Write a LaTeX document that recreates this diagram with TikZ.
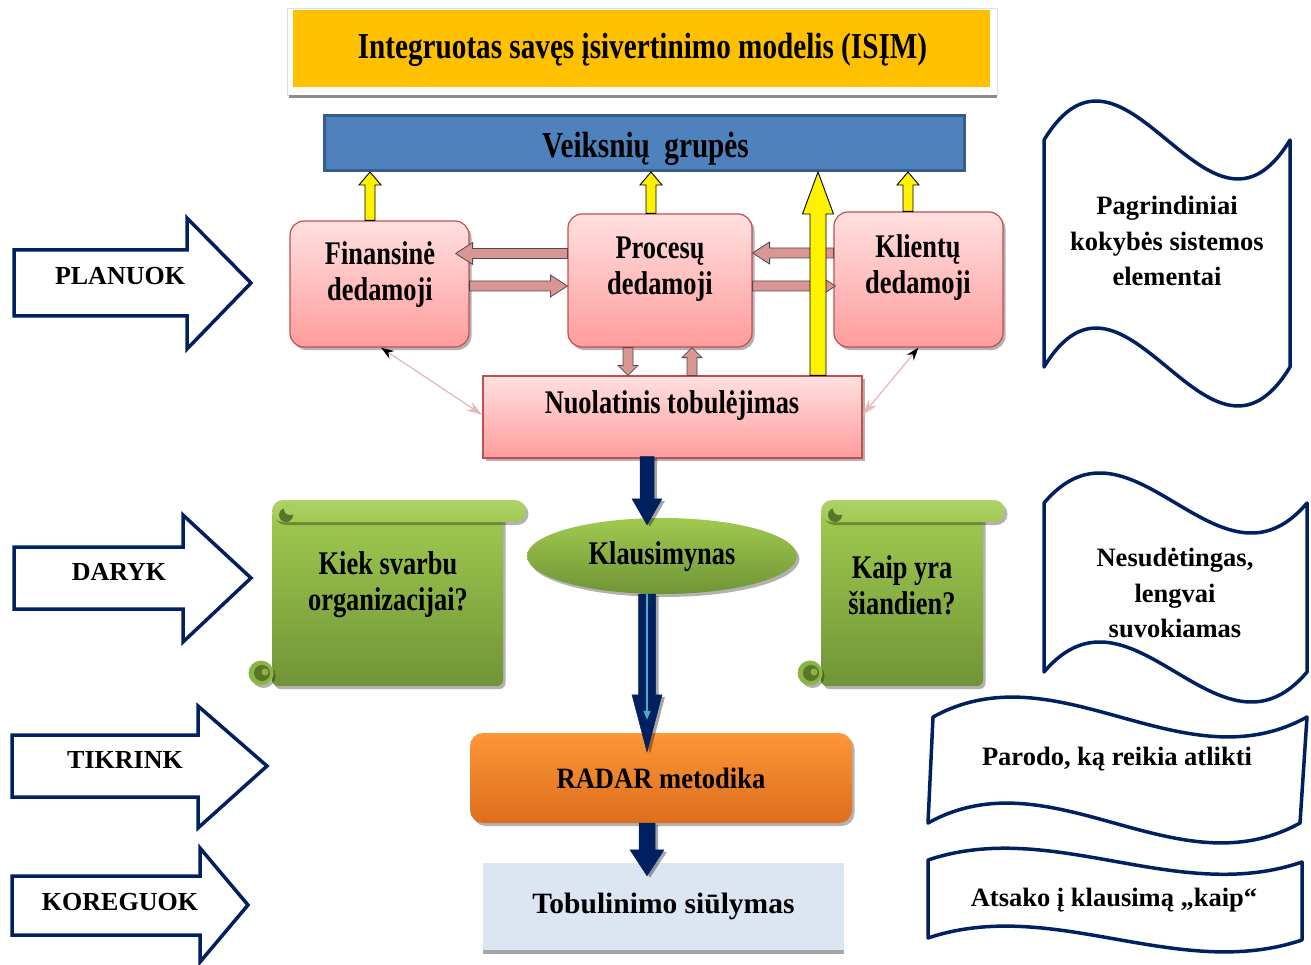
\documentclass[tikz,border=0pt]{standalone}
\usepackage{fontspec}
\setmainfont{Liberation Serif}
\newfontfamily\cf[FakeStretch=0.8]{Liberation Serif}
\newfontfamily\cfn[FakeStretch=0.9]{Liberation Serif}
\usetikzlibrary{calc,shadows,arrows.meta,shapes.geometric}
\definecolor{navy}{RGB}{0,32,96}
\definecolor{gold}{RGB}{255,192,0}
\definecolor{vblue}{RGB}{79,129,189}
\definecolor{vblueb}{RGB}{56,93,138}
\definecolor{pinkT}{RGB}{255,224,224}
\definecolor{pinkB}{RGB}{255,156,156}
\definecolor{pinkE}{RGB}{192,80,77}
\definecolor{arrpink}{RGB}{217,150,148}
\definecolor{linepink}{RGB}{230,185,184}
\definecolor{grT}{RGB}{160,202,80}
\definecolor{grB}{RGB}{112,148,54}
\definecolor{grD}{RGB}{88,118,42}
\definecolor{orT}{RGB}{252,150,55}
\definecolor{orB}{RGB}{222,110,28}
\definecolor{lblue}{RGB}{220,230,242}
\definecolor{stripe}{RGB}{75,172,198}
\newcommand\barrow[6][]{%
  \coordinate (bh) at ($(#3)!#6!(#2)$);
  \path[#1] ($(#2)!#4!90:(#3)$) -- ($(bh)!#4!90:(#3)$) -- ($(bh)!#5!90:(#3)$) -- (#3)
    -- ($(bh)!#5!-90:(#3)$) -- ($(bh)!#4!-90:(#3)$) -- ($(#2)!#4!-90:(#3)$) -- cycle;}
\newcommand\scrollshape[5]{%
  \path[top color=grT, bottom color=grB, myshadow, rounded corners=6pt] (#1,#4+10) rectangle (#2,#5);
  \path[fill=grT!55!grB, draw=grT!70!grB, line width=1pt, myshadow] (#1-11,#5-13) circle (12pt);
  \path[fill=grD] (#1-10,#5-13) circle (8pt);
  \path[fill=grT!55!grB] (#1-7,#5-14) circle (3.5pt);
  \path[top color=grT!85!white, bottom color=grT, rounded corners=11pt, myshadow] (#1,#4) rectangle (#3,#4+22);
  \path[fill=grD] (#1+14,#4+15) circle (7pt);
  \path[fill=grT!92!white] (#1+18,#4+9) circle (6pt);}
\begin{document}
\begin{tikzpicture}[x=1pt,y=-1pt,
  myshadow/.style={drop shadow={shadow xshift=2.5pt,shadow yshift=-3pt,fill=black,opacity=0.3}},
  pinkbox/.style={rectangle, draw=pinkE, line width=1.2pt, top color=pinkT, bottom color=pinkB, myshadow},
  condtxt/.style={align=center, font=\cf\bfseries\fontsize{33}{36}\selectfont, inner sep=0pt},
  doctxt/.style={align=center, font=\bfseries\fontsize{26.5}{35.5}\selectfont, inner sep=0pt},
  armtxt/.style={font=\bfseries\fontsize{26}{28}\selectfont, inner sep=0pt},
  docshape/.style={draw=navy, line width=3.5pt, fill=white, line join=round},
  bigarrow/.style={draw=navy, line width=3.5pt, fill=white, line join=miter},
  yarrow/.style={fill=yellow, draw=black, line width=0.9pt},
  parrow/.style={fill=arrpink, draw=black!70, line width=0.8pt},
  narrow/.style={fill=navy, draw=navy, line width=0.5pt, drop shadow={shadow xshift=3pt,shadow yshift=-2pt,fill=black,opacity=0.35}},
  thinlink/.style={draw=linepink, line width=1.3pt, arrows={Stealth[black,length=13pt,width=9pt]-Stealth[linepink,length=16pt,width=10pt]}},
  stripeline/.style={draw=stripe, line width=1.4pt, arrows={-Triangle[length=9pt,width=7pt]}}
]
\useasboundingbox (0,0) rectangle (1311,965);

% title
\path[fill=white, draw=black!12, line width=0.6pt] (287,8) rectangle (997,95);
\path[fill=black!45] (289,95) rectangle (997,98);
\node[fill=gold, minimum width=697pt, minimum height=77pt, inner sep=0pt] (title) at (641.5,48.5) {};
\node[inner sep=0pt, font=\cf\bfseries\fontsize{36.5}{40}\selectfont] (titlet) at (642.5,50) {Integruotas savęs įsivertinimo modelis (ISĮM)};

% factor groups
\node[fill=vblue, draw=vblueb, line width=3pt, minimum width=640pt, minimum height=55pt, inner sep=0pt] (veik) at (644.5,143) {};
\node[inner sep=0pt, font=\cf\bfseries\fontsize{36.5}{40}\selectfont] (veikt) at (645.5,149) {Veiksnių\ \ grupės};

% pink boxes
\node[pinkbox, rounded corners=14pt, minimum width=179pt, minimum height=126pt] (fin) at (379.5,284) {};
\node[condtxt] (fint) at (380,275) {Finansinė\\dedamoji};
\node[pinkbox, rounded corners=14pt, minimum width=184pt, minimum height=133pt] (proc) at (660,280.5) {};
\node[condtxt] (proct) at (660,269.5) {Procesų\\dedamoji};
\node[pinkbox, rounded corners=14pt, minimum width=169pt, minimum height=135pt] (kli) at (918.5,279.5) {};
\node[condtxt] (klit) at (918,268) {Klientų\\dedamoji};
\node[pinkbox, minimum width=379pt, minimum height=82pt] (nuol) at (672.5,417) {};
\node[condtxt] (nuolt) at (672,406) {Nuolatinis tobulėjimas};

% scrolls
\scrollshape{272}{503}{526}{500}{686}
\node[condtxt] (sc1) at (388,585) {Kiek svarbu\\organizacijai?};
\scrollshape{821}{983}{1005}{500}{686}
\node[condtxt] (sc2) at (902,585) {Kaip yra\\šiandien?};

% questionnaire
\node[ellipse, minimum width=270pt, minimum height=76pt, top color=grT, bottom color=grB, myshadow, inner sep=0pt] (klaus) at (662,556) {};
\node[condtxt] (klaust) at (662,557) {Klausimynas};

% RADAR
\node[rectangle, rounded corners=13pt, minimum width=382pt, minimum height=90pt, top color=orT, bottom color=orB, myshadow, inner sep=0pt, font=\cfn\bfseries\fontsize{29.5}{32}\selectfont] (radar) at (661,778) {RADAR metodika};

% proposal
\node[fill=lblue, minimum width=361pt, minimum height=87pt, inner sep=0pt, drop shadow={shadow xshift=0pt,shadow yshift=-4pt,fill=black,opacity=0.35}, font=\bfseries\fontsize{29.5}{32}\selectfont] (tob) at (663.5,906.5) {Tobulinimo siūlymas};

% left arrows
\path[bigarrow] (14,250) -- (187,250) -- (187,218) -- (251,283) -- (187,349) -- (187,316) -- (14,316) -- cycle;
\node[armtxt] (plan) at (120,276) {PLANUOK};
\path[bigarrow] (14,547) -- (183,547) -- (183,515) -- (251,578) -- (183,642) -- (183,609) -- (14,609) -- cycle;
\node[armtxt] (dar) at (119,572) {DARYK};
\path[bigarrow] (12,735) -- (198,735) -- (198,706) -- (267,766) -- (198,828) -- (198,797) -- (12,797) -- cycle;
\node[armtxt] (tik) at (125,760) {TIKRINK};
\path[bigarrow] (12,876) -- (200,876) -- (200,848) -- (248,905) -- (200,962) -- (200,935) -- (12,935) -- cycle;
\node[armtxt] (kor) at (120,902) {KOREGUOK};

% right documents
\path[docshape] (1044,140) .. controls (1126,5) and (1208,275) .. (1290,140) -- (1290,367) .. controls (1208,502) and (1126,232) .. (1044,367) -- cycle;
\node[doctxt] (d1) at (1167,241) {Pagrindiniai\\kokybės sistemos\\elementai};
\path[docshape] (1044,503) .. controls (1132,399) and (1219,607) .. (1307,503) -- (1307,672) .. controls (1219,776) and (1132,568) .. (1044,672) -- cycle;
\node[doctxt] (d2) at (1175,593) {Nesudėtingas,\\lengvai\\suvokiamas};
\path[docshape] (933,717) .. controls (1058,648) and (1182,786) .. (1307,717) -- (1300,823) .. controls (1176,892) and (1052,754) .. (928,823) -- cycle;
\node[doctxt] (d3) at (1117,759) {Parodo, ką reikia atlikti};
\path[docshape] (928,860) .. controls (1053,818) and (1177,905) .. (1302,862) -- (1302,940) .. controls (1177,982) and (1053,896) .. (928,938) -- cycle;
\node[doctxt] (d4) at (1114,900) {Atsako į klausimą „kaip“};

% pink block arrows between dimensions
\coordinate (p1s) at ($(proc.west)+(0,-27)$);
\coordinate (p1e) at ($(fin.east |- p1s)+(-14,0)$);
\barrow[parrow]{p1s}{p1e}{5pt}{11pt}{17pt}
\coordinate (p2s) at ($(fin.east)+(0,2)$);
\coordinate (p2e) at (proc.west |- p2s);
\barrow[parrow]{p2s}{p2e}{5pt}{11pt}{17pt}
\coordinate (p3s) at ($(kli.west)+(0,-26.5)$);
\coordinate (p3e) at (proc.east |- p3s);
\barrow[parrow]{p3s}{p3e}{5pt}{11pt}{17pt}
\coordinate (p4s) at ($(proc.east)+(0,5.5)$);
\coordinate (p4e) at ($(kli.west |- p4s)+(2,0)$);
\barrow[parrow]{p4s}{p4e}{5pt}{11pt}{17pt}
\coordinate (p5s) at ($(proc.south)+(-32,0)$);
\coordinate (p5e) at (p5s |- nuol.north);
\barrow[parrow]{p5s}{p5e}{5pt}{10pt}{10pt}
\coordinate (p6s) at ($(nuol.north)+(19.5,0)$);
\coordinate (p6e) at (p6s |- proc.south);
\barrow[parrow]{p6s}{p6e}{5pt}{10pt}{10pt}

% yellow arrows
\coordinate (y1s) at ($(fin.north)+(-9.5,0)$);
\coordinate (y1e) at (y1s |- veik.south);
\barrow[yarrow]{y1s}{y1e}{5pt}{11pt}{13pt}
\coordinate (y2s) at ($(proc.north)+(-9,0)$);
\coordinate (y2e) at (y2s |- veik.south);
\barrow[yarrow]{y2s}{y2e}{5pt}{11pt}{13pt}
\coordinate (y3s) at ($(kli.north)+(-10.5,0)$);
\coordinate (y3e) at (y3s |- veik.south);
\barrow[yarrow]{y3s}{y3e}{5pt}{11pt}{13pt}
\coordinate (ybs) at ($(nuol.north)+(145.5,0)$);
\coordinate (ybe) at (ybs |- veik.south);
\barrow[yarrow]{ybs}{ybe}{8pt}{15.5pt}{42pt}

% thin links
\draw[thinlink] ($(fin.south)+(1.5,0)$) -- ($(nuol.west)+(0,-2)$);
\draw[thinlink] (kli.south) -- ($(nuol.east)+(0,-2)$);

% navy arrows
\coordinate (n1s) at ($(nuol.south)+(-25.5,-2)$);
\coordinate (n1e) at ($(n1s |- klaus.north)+(0,7)$);
\barrow[narrow]{n1s}{n1e}{7pt}{15pt}{26pt}
\coordinate (n2s) at ($(klaus.south)+(-15,0)$);
\coordinate (n2e) at ($(n2s |- radar.north)+(0,19)$);
\barrow[narrow]{n2s}{n2e}{8.5pt}{15pt}{57pt}
\draw[stripeline] (n2s) -- ($(n2e)+(0,-32)$);
\coordinate (n3s) at ($(radar.south)+(-14,0)$);
\coordinate (n3e) at ($(n3s |- tob.north)+(0,13)$);
\barrow[narrow]{n3s}{n3e}{8pt}{17pt}{26pt}
\end{tikzpicture}
\end{document}
